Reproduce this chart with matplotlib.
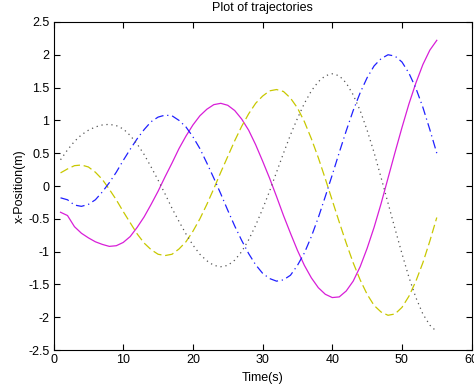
import numpy as np
import matplotlib
matplotlib.use("Agg")
import matplotlib.pyplot as plt
from matplotlib.ticker import FormatStrFormatter

plt.rcParams['font.family'] = ['Liberation Sans', 'DejaVu Sans']
plt.rcParams['axes.unicode_minus'] = False

# tiempo (s)
tiempo = np.arange(1, 56)

# trayectorias
magenta = [-0.40, -0.45, -0.62, -0.72, -0.79, -0.85, -0.89, -0.92, -0.91, -0.86,
           -0.77, -0.63, -0.47, -0.28, -0.08, 0.14, 0.35, 0.57, 0.76, 0.93,
           1.07, 1.17, 1.24, 1.26, 1.23, 1.15, 1.02, 0.85, 0.63, 0.38,
           0.12, -0.16, -0.45, -0.72, -0.98, -1.21, -1.40, -1.55, -1.65, -1.70,
           -1.69, -1.60, -1.45, -1.23, -0.95, -0.63, -0.27, 0.12, 0.51, 0.89,
           1.25, 1.57, 1.85, 2.07, 2.22]
amarillo = [0.20, 0.26, 0.31, 0.32, 0.29, 0.21, 0.10, -0.05, -0.21, -0.39,
            -0.56, -0.73, -0.87, -0.97, -1.04, -1.06, -1.04, -0.96, -0.85, -0.69,
            -0.50, -0.28, -0.04, 0.21, 0.45, 0.69, 0.91, 1.10, 1.26, 1.37,
            1.45, 1.47, 1.44, 1.34, 1.19, 0.98, 0.72, 0.43, 0.11, -0.22,
            -0.55, -0.87, -1.17, -1.43, -1.65, -1.82, -1.92, -1.97, -1.95, -1.85,
            -1.68, -1.45, -1.17, -0.84, -0.48]
azul = [-0.18, -0.21, -0.29, -0.31, -0.28, -0.21, -0.09, 0.05, 0.21, 0.39,
        0.56, 0.72, 0.86, 0.98, 1.05, 1.08, 1.07, 1.00, 0.90, 0.75,
        0.57, 0.35, 0.12, -0.12, -0.37, -0.61, -0.83, -1.03, -1.20, -1.33,
        -1.41, -1.45, -1.43, -1.36, -1.21, -1.02, -0.77, -0.48, -0.16, 0.17,
        0.51, 0.84, 1.15, 1.42, 1.65, 1.83, 1.94, 2.00, 1.98, 1.89,
        1.72, 1.49, 1.20, 0.86, 0.50]
negro = [0.40, 0.55, 0.68, 0.78, 0.85, 0.90, 0.93, 0.94, 0.92, 0.87,
         0.77, 0.64, 0.48, 0.29, 0.09, -0.12, -0.34, -0.54, -0.73, -0.90,
         -1.04, -1.14, -1.21, -1.23, -1.21, -1.13, -1.00, -0.82, -0.60, -0.35,
         -0.08, 0.21, 0.50, 0.78, 1.03, 1.26, 1.45, 1.59, 1.68, 1.71,
         1.68, 1.57, 1.39, 1.15, 0.85, 0.51, 0.13, -0.26, -0.65, -1.03,
         -1.39, -1.70, -1.95, -2.12, -2.22]

fig = plt.figure(figsize=(4.74, 3.92), dpi=100)
ax = fig.add_axes([0.113, 0.107, 0.882, 0.837])

ax.plot(tiempo, magenta, color='#d81ed8', linestyle='-', linewidth=0.9)
ax.plot(tiempo, amarillo, color='#c8c800', linestyle='--', linewidth=0.9, dashes=(7, 3))
ax.plot(tiempo, azul, color='#2020ff', linestyle='-.', linewidth=0.9, dashes=(7, 3, 1, 3))
ax.plot(tiempo, negro, color='#555555', linestyle=':', linewidth=0.9, dashes=(1, 3))

ax.set_xlim(0, 60)
ax.set_ylim(-2.5, 2.5)
ax.set_xticks(np.arange(0, 61, 10))
ax.set_yticks(np.arange(-2.5, 2.51, 0.5))
ax.yaxis.set_major_formatter(FormatStrFormatter('%g'))
ax.tick_params(direction='in', top=True, right=True, length=4, labelsize=9,
               width=0.8, pad=3)
for s in ax.spines.values():
    s.set_linewidth(0.8)

ax.set_title("Plot of trajectories", fontsize=9, pad=8)
ax.set_xlabel("Time(s)", fontsize=9, labelpad=4)
ax.set_ylabel("x-Position(m)", fontsize=9, labelpad=2)

fig.savefig("out.png", dpi=100)
